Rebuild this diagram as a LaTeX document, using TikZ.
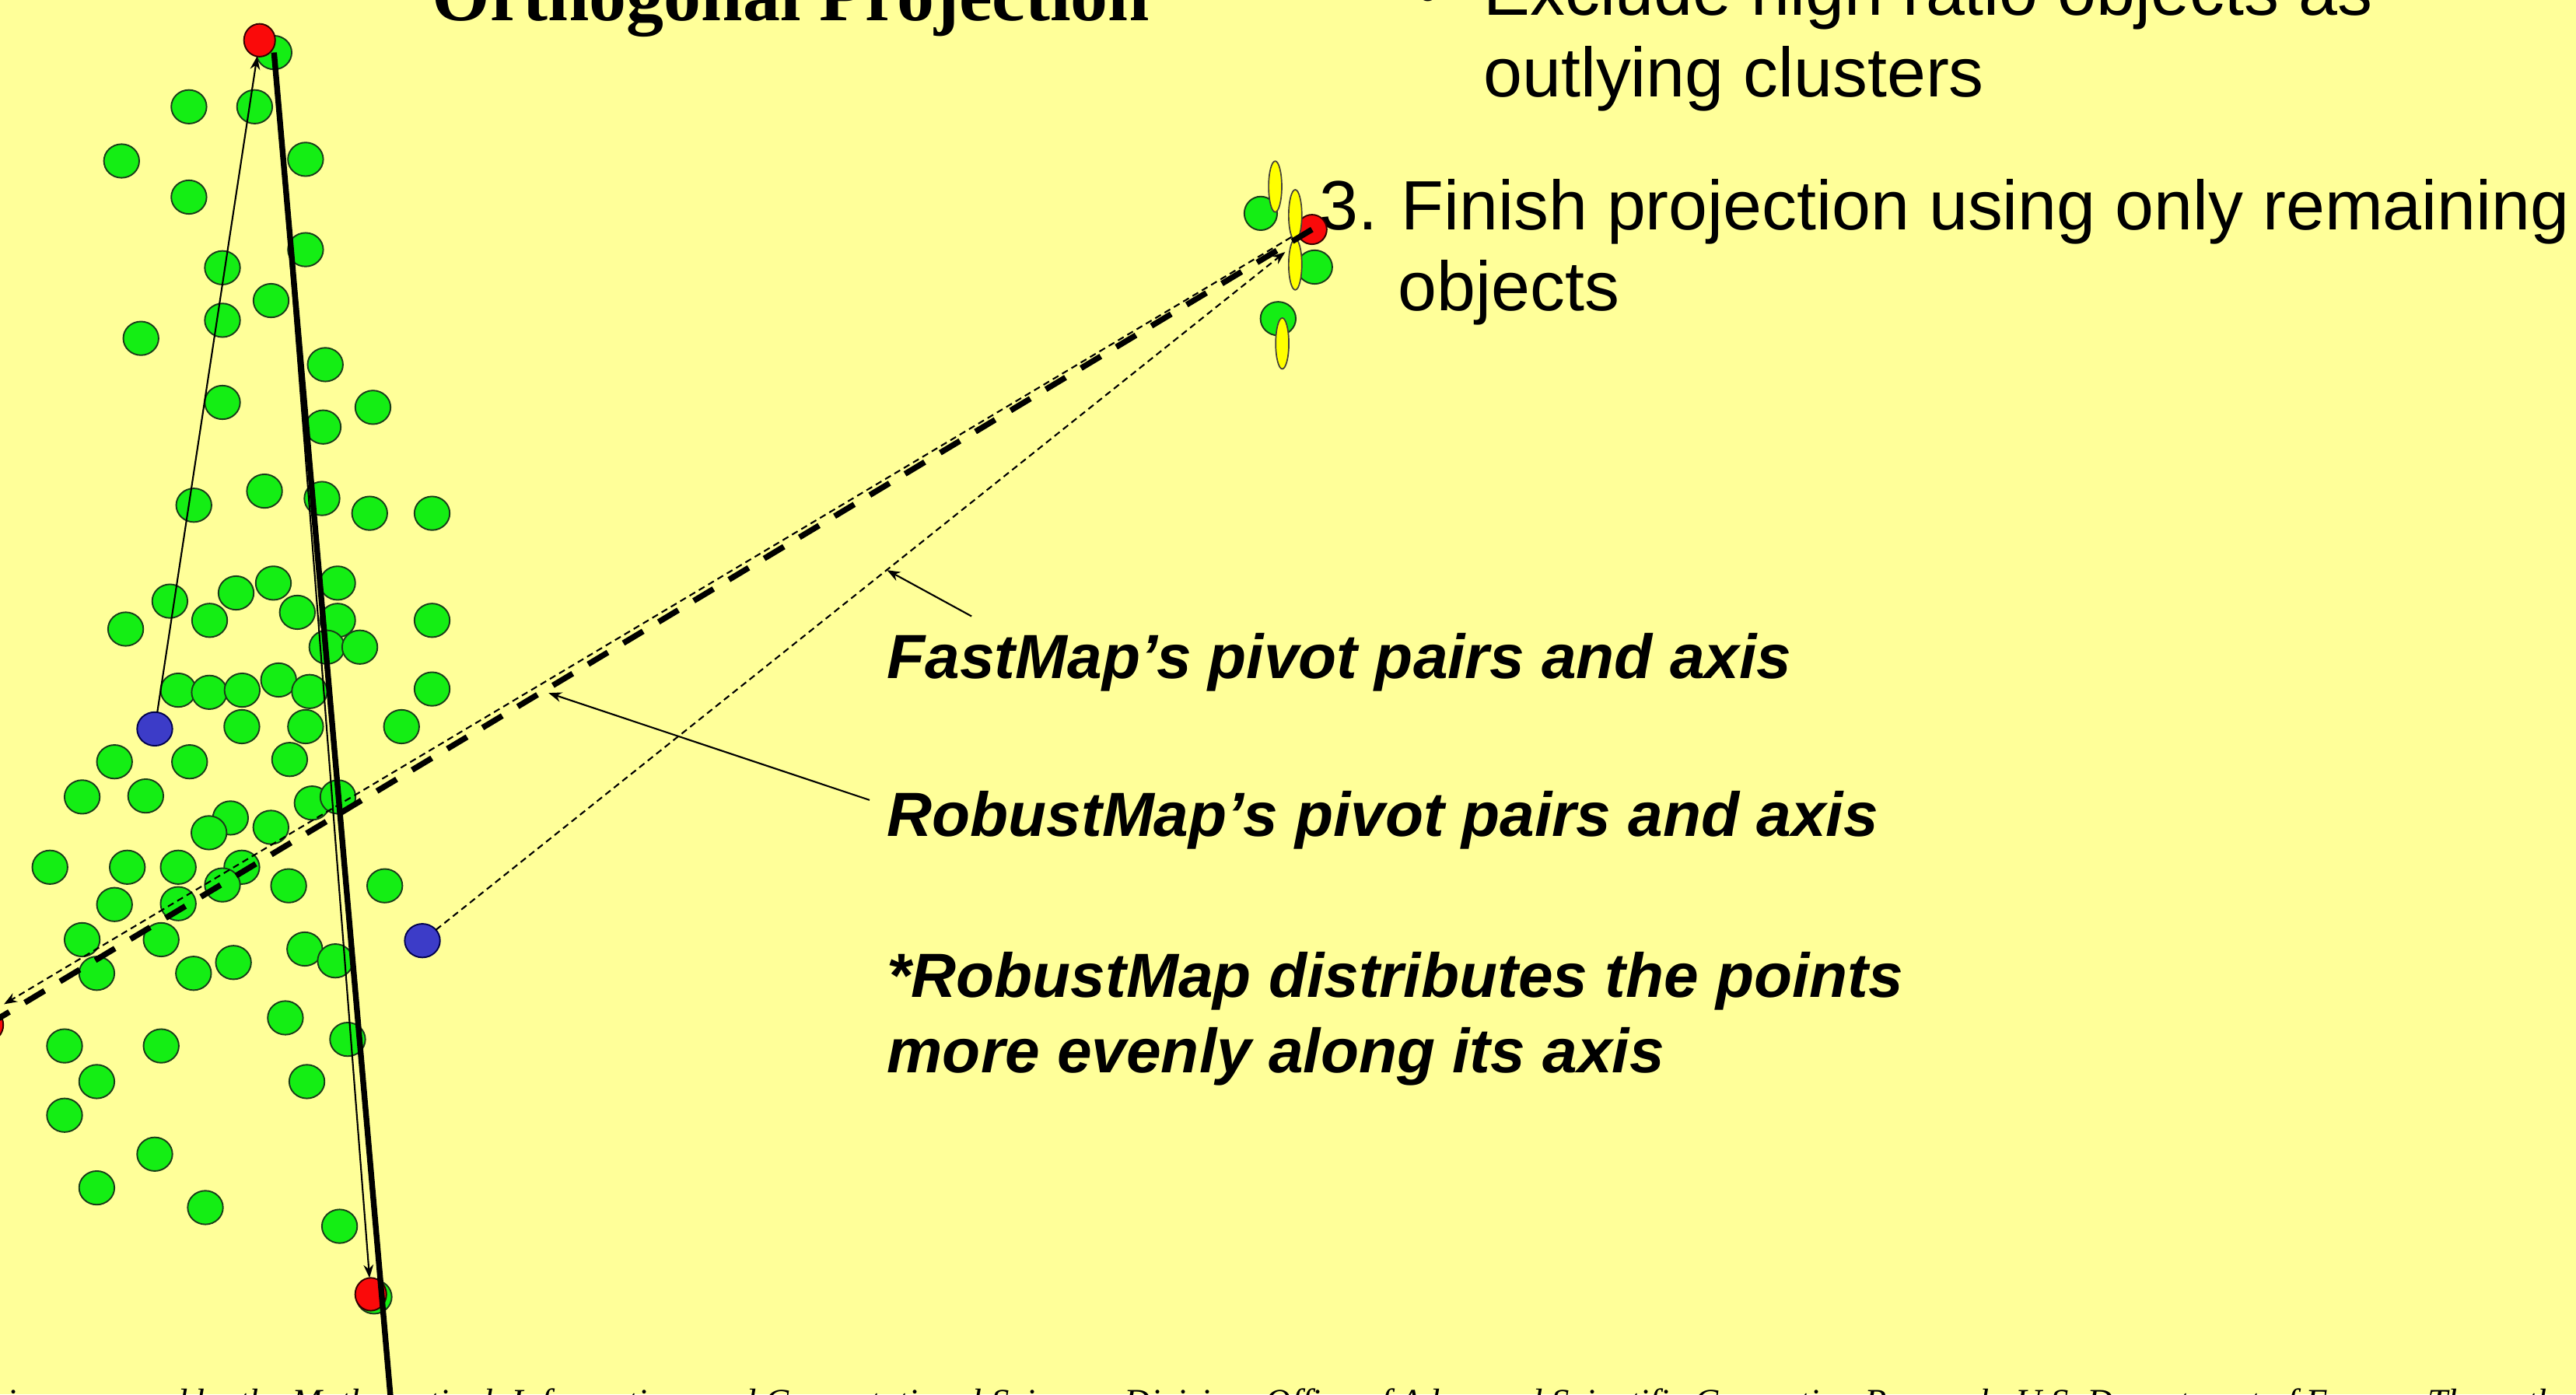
\documentclass[tikz,border=0pt]{standalone}
\usepackage{fontspec}
\setmainfont{Liberation Sans}
\newfontfamily\timesfont{Liberation Serif}
\usetikzlibrary{shapes.geometric,arrows.meta}
\definecolor{bgyellow}{RGB}{255,255,153}
\definecolor{dotgreen}{RGB}{20,238,20}
\definecolor{dotedge}{RGB}{25,60,25}
\definecolor{dotred}{RGB}{250,10,10}
\definecolor{dotblue}{RGB}{60,60,200}
\definecolor{elyellow}{RGB}{255,255,0}
\begin{document}
\begin{tikzpicture}[x=1pt,y=-1pt,
  dotbase/.style={ellipse, inner sep=0pt, outer sep=0pt, minimum width=21.5pt, minimum height=20.5pt, line width=0.9pt, draw=dotedge},
  gdot/.style={dotbase, fill=dotgreen},
  rdot/.style={dotbase, fill=dotred, draw=black!80!red, minimum width=19pt, minimum height=20pt},
  bdot/.style={dotbase, fill=dotblue, draw=black!70!blue},
  ydot/.style={ellipse, inner sep=0pt, outer sep=0pt, minimum width=8pt, minimum height=31pt, line width=0.8pt, draw=black!85!yellow, fill=elyellow},
  thinline/.style={line width=1pt},
  thindash/.style={line width=1pt, dash pattern=on 4pt off 2.6pt},
  thickdash/.style={line width=3.5pt, dash pattern=on 14pt off 11pt},
  thickline/.style={line width=3.5pt},
  arrowend/.style={-{Stealth[length=8pt,width=6pt]}},
  bodytext/.style={anchor=base west, inner sep=0pt, outer sep=0pt, font=\fontsize{42.5}{50}\selectfont},
  lbltext/.style={anchor=base west, inner sep=0pt, outer sep=0pt, font=\fontsize{38}{46}\selectfont\bfseries\itshape},
  titletext/.style={anchor=base west, inner sep=0pt, outer sep=0pt, font=\timesfont\fontsize{45.4}{52}\selectfont\bfseries},
  foottext/.style={anchor=base west, inner sep=0pt, outer sep=0pt, font=\timesfont\fontsize{22}{26}\selectfont\itshape}
]
\useasboundingbox (0,0) rectangle (1568,849);
\clip (0,0) rectangle (1568,849);
\fill[bgyellow] (0,0) rectangle (1568,849);

% ---- text ----
\node[titletext] (title) at (263,12.6) {Orthogonal Projection};
\node[bodytext] (bul) at (862,9) {•};
\node[bodytext] (ex1) at (903,9) {Exclude high ratio objects as};
\node[bodytext] (ex2) at (903,59) {outlying clusters};
\node[bodytext] (n3) at (803,140) {3.};
\node[bodytext] (fin1) at (853,140) {Finish projection using only remaining};
\node[bodytext] (fin2) at (851,189) {objects};
\node[lbltext] (fmlab) at (540,413) {FastMap's pivot pairs and axis};
\node[lbltext] (rmlab) at (540,509) {RobustMap's pivot pairs and axis};
\node[lbltext] (note1) at (540,607) {*RobustMap distributes the points};
\node[lbltext] (note2) at (540,653) {more evenly along its axis};
\node[foottext] (foot) at (4,861) {is sponsored by the Mathematical, Information, and Computational Sciences Division, Office of Advanced Scientific Computing Research, U.S. Department of Energy. The authors are};

% ---- green points ----
\foreach \px/\py [count=\i] in {
115/65,155/65,74/98,186/97,115/120,186/152,135.4/163,165/183,135.4/195,85.8/206,
198/222,227/248,135.4/245,196.7/260,118/307.6,161/299,196/303.5,225/312.5,263/312.5,
103.4/366,143.7/361,166.4/355,205.5/355,76.5/383,127.6/377.7,181/372.8,205.5/377.7,
199/394,219/394,263/377.7,
108.5/420.2,127.4/421.5,147.4/420.2,169.6/414,188.4/421,263/419.5,
147.2/442.4,186/442.4,244.4/442.4,69.7/463.8,115.4/463.8,176.3/462.4,50/485.2,88.7/484.6,
190/488.9,205.7/485.2,140.3/498,127.2/507,164.9/503.7,30.4/528,77.5/528,108.5/528,147.2/528,
135.4/538.8,175.7/539.3,234.2/539.3,69.7/550.7,108.5/550.2,50/572.1,98.1/572.1,185.5/577.8,
204.1/585,58.9/592.6,117.8/592.6,142.1/586,173.7/619.7,211.6/632.8,39.3/636.8,98.1/636.8,
58.9/658.5,186.8/658.5,39.3/679,94.2/702.7,58.9/723.2,125/735.2,206.7/746.6}
  \node[gdot] (g\i) at (\px,\py) {};

\node[gdot] (gtop) at (166.8,32) {};
\node[rdot] (rtop) at (158,24.5) {};
\node[gdot] (gbot) at (227.7,789.6) {};
\node[rdot] (rbot) at (225.7,788) {};
\node[rdot] (rleft) at (-7.5,624) {};
\node[bdot] (b1) at (94.2,443.8) {};
\node[bdot] (b2) at (257.1,572.7) {};

% ---- outlying cluster ----
\node[gdot, minimum width=20pt] (c1) at (767.4,129.9) {};
\node[gdot] (c2) at (800.2,162.6) {};
\node[gdot] (c3) at (778,194) {};
\node[rdot, minimum width=18pt, minimum height=18pt] (rright) at (798.6,139.7) {};
\node[ydot] (y1) at (776.2,113.6) {};
\node[ydot] (y2) at (788.4,131) {};
\node[ydot] (y3) at (788.4,161) {};
\node[ydot] (y4) at (780.5,209.1) {};

% ---- free ends ----
\coordinate (axisbot) at (240.6,884);
\coordinate (fmtip) at (782.3,153.4);
\coordinate (rmstart) at (786,144.4);
\coordinate (rmtip) at (2.4,611.4);
\coordinate (fmfrom) at (591.4,375.2);
\coordinate (fmto) at (539.9,347.1);
\coordinate (rmfrom) at (529.3,487.1);
\coordinate (rmto) at (333.9,421.9);

% ---- FastMap pivots and axes ----
\draw[thinline, arrowend] (b1) -- (rtop);
\draw[thindash, arrowend] (b2) -- (fmtip);
% ---- RobustMap pivots and axes ----
\draw[thinline, arrowend] (gtop.center) -- (rbot);
\draw[thindash, arrowend] (rmstart) -- (rmtip);
\draw[thickline] (gtop.center) -- (axisbot);
\draw[thickdash] (rright.center) -- (rleft.center);

% ---- label pointers ----
\draw[thinline, arrowend] (fmfrom) -- (fmto);
\draw[thinline, arrowend] (rmfrom) -- (rmto);
\end{tikzpicture}
\end{document}
